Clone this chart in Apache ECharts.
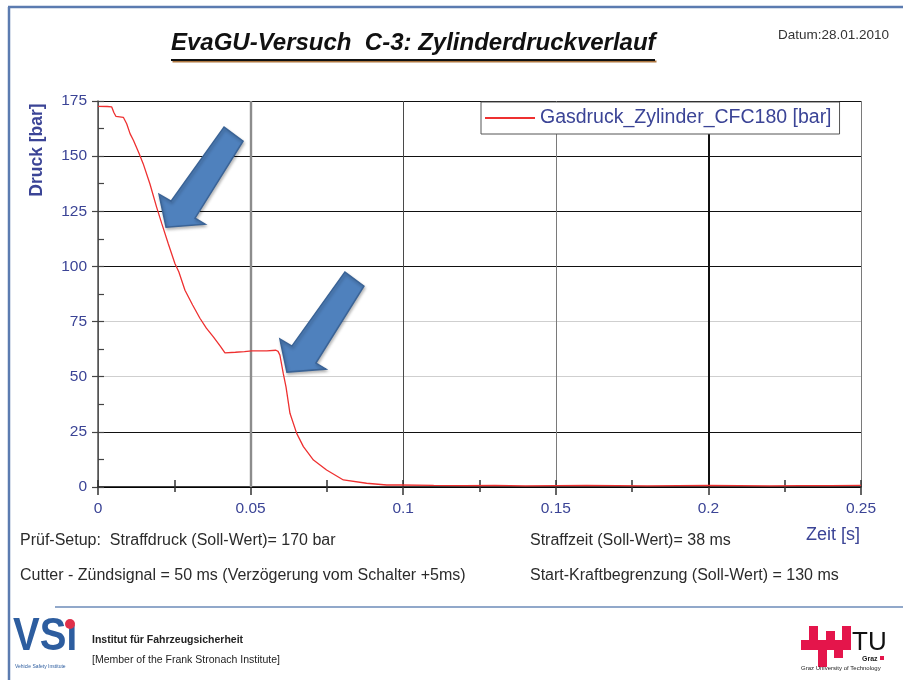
<!DOCTYPE html>
<html>
<head>
<meta charset="utf-8">
<script src="https://cdn.jsdelivr.net/npm/echarts@6/dist/echarts.min.js"></script>
<style>
  html, body { margin: 0; padding: 0; background: #fff; }
  #c { width: 903px; height: 680px; }
</style>
</head>
<body>
<div id="c"></div>
<script>
// Zylinderdruck über der Zeit (s, bar)
const TIME = [0, 0.0030, 0.0045, 0.0052, 0.0059, 0.0083, 0.0094, 0.0105, 0.0116, 0.0135,
  0.0148, 0.0170, 0.0192, 0.0209, 0.0230, 0.0252, 0.0265, 0.0285, 0.0310, 0.0334,
  0.0355, 0.0378, 0.0400, 0.0416, 0.0450, 0.0480, 0.0504, 0.0553, 0.0583, 0.0590,
  0.0596, 0.0607, 0.0616, 0.0629, 0.0651, 0.0673, 0.0706, 0.0749, 0.0804, 0.0880,
  0.0946, 0.0990, 0.110, 0.120, 0.130, 0.140, 0.150, 0.160, 0.170, 0.180,
  0.190, 0.200, 0.210, 0.220, 0.230, 0.240, 0.250];
const GASDRUCK = [172.6, 172.5, 172.3, 169.8, 168.0, 167.6, 164.7, 160.2, 157.2, 151.1,
  146.6, 137.5, 126.9, 119.4, 110.4, 101.3, 97.5, 89.2, 82.5, 76.5,
  72.0, 68.1, 64.0, 60.8, 61.1, 61.4, 61.7, 61.7, 62.0, 61.5,
  59.8, 51.5, 45.4, 33.4, 24.3, 18.3, 12.2, 7.7, 3.2, 1.7,
  0.9, 0.9, 0.7, 0.6, 0.7, 0.5, 0.6, 0.7, 0.6, 0.5,
  0.6, 0.7, 0.6, 0.5, 0.6, 0.6, 0.7];
const SERIES_NAME = 'Gasdruck_Zylinder_CFC180 [bar]';
const X_TICKS = [0, 0.05, 0.1, 0.15, 0.2, 0.25];
const Y_TICKS = [0, 25, 50, 75, 100, 125, 150, 175];
// Pfeilspitzen (Zeit, Druck) der beiden Markierungspfeile
const ARROW_TIPS = [[0.0223, 117.8], [0.0619, 52.1]];

const FONT = 'Liberation Sans, Arial, sans-serif';
const BLUE_TEXT = '#3b4496';
const FRAME = '#5b7bb0';

const xStep = X_TICKS[1] - X_TICKS[0];
const yStep = Y_TICKS[1] - Y_TICKS[0];

const chart = echarts.init(document.getElementById('c'), null, { renderer: 'canvas' });

const option = {
  animation: false,
  backgroundColor: '#ffffff',
  title: {
    text: 'EvaGU-Versuch  C-3: Zylinderdruckverlauf',
    left: 171,
    top: 31,
    padding: 0,
    textStyle: {
      fontFamily: FONT,
      fontSize: 24,
      fontWeight: 'bold',
      fontStyle: 'italic',
      color: '#111',
      textShadowColor: 'rgba(160,95,30,0.85)',
      textShadowOffsetX: 1.5,
      textShadowOffsetY: 1.5,
      textShadowBlur: 0
    }
  },
  legend: {
    data: [SERIES_NAME],
    left: 481,
    top: 102,
    orient: 'horizontal',
    backgroundColor: '#fff',
    borderColor: '#555',
    borderWidth: 1,
    borderRadius: 0,
    padding: [6, 8, 6, 4],
    icon: 'rect',
    itemWidth: 50,
    itemHeight: 2,
    itemGap: 6,
    selectedMode: false,
    textStyle: { fontFamily: FONT, fontSize: 19.5, color: BLUE_TEXT }
  },
  grid: { left: 98, right: 42, top: 101, bottom: 193, containLabel: false },
  xAxis: [
    {
      type: 'value',
      position: 'bottom',
      min: X_TICKS[0],
      max: X_TICKS[X_TICKS.length - 1],
      interval: xStep,
      axisLine: { show: true, onZero: false, lineStyle: { color: '#000', width: 1.5 } },
      axisTick: { show: true, inside: false, length: 8, lineStyle: { color: '#333', width: 1.5 } },
      minorTick: { show: true, splitNumber: 2, length: 5, lineStyle: { color: '#333', width: 1.5 } },
      axisLabel: {
        margin: 14,
        fontFamily: FONT,
        fontSize: 15.5,
        color: BLUE_TEXT,
        formatter: v => String(+v.toFixed(2))
      },
      splitLine: {
        show: true,
        lineStyle: { color: ['#555', '#8c8c8c', '#4a4a4a', '#7a7a7a', '#111', '#7a7a7a'], width: 1 }
      }
    },
    {
      type: 'value',
      position: 'bottom',
      min: X_TICKS[0],
      max: X_TICKS[X_TICKS.length - 1],
      interval: xStep / 2,
      axisLine: { show: false },
      axisTick: { show: true, inside: true, length: 7, lineStyle: { color: '#333', width: 1.5 } },
      axisLabel: { show: false },
      splitLine: { show: false }
    }
  ],
  yAxis: [
    {
      type: 'value',
      position: 'left',
      min: Y_TICKS[0],
      max: Y_TICKS[Y_TICKS.length - 1],
      interval: yStep,
      axisLine: { show: true, onZero: false, lineStyle: { color: '#555', width: 1.5 } },
      axisTick: { show: true, inside: false, length: 6, lineStyle: { color: '#444', width: 1.2 } },
      axisLabel: { margin: 11, fontFamily: FONT, fontSize: 15.5, color: BLUE_TEXT },
      splitLine: {
        show: true,
        lineStyle: {
          color: ['#111', '#111', '#cfcfcf', '#cfcfcf', '#111', '#111', '#111', '#111'],
          width: 1.2
        }
      }
    },
    {
      type: 'value',
      position: 'left',
      min: Y_TICKS[0],
      max: Y_TICKS[Y_TICKS.length - 1],
      interval: yStep / 2,
      axisLine: { show: false },
      axisTick: { show: true, inside: true, length: 6, lineStyle: { color: '#444', width: 1.2 } },
      axisLabel: { show: false },
      splitLine: { show: false }
    }
  ],
  series: [
    {
      // hervorgehobene senkrechte Gitterlinien
      type: 'line',
      xAxisIndex: 0,
      yAxisIndex: 0,
      data: [[X_TICKS[0], Y_TICKS[0]]],
      showSymbol: false,
      lineStyle: { opacity: 0 },
      silent: true,
      z: 1,
      markLine: {
        silent: true,
        symbol: ['none', 'none'],
        label: { show: false },
        z: 1,
        data: [
          { xAxis: X_TICKS[1], lineStyle: { color: '#8c8c8c', width: 2.4, type: 'solid' } },
          { xAxis: X_TICKS[4], lineStyle: { color: '#111', width: 2, type: 'solid' } }
        ]
      }
    },
    {
      name: SERIES_NAME,
      type: 'line',
      xAxisIndex: 0,
      yAxisIndex: 0,
      data: TIME.map((t, i) => [t, GASDRUCK[i]]),
      showSymbol: false,
      smooth: false,
      z: 3,
      itemStyle: { color: '#ee3030' },
      lineStyle: { color: '#ee3030', width: 1.3 }
    }
  ],
  graphic: [
    // Rahmen
    { id: 'frameTop', type: 'line', shape: { x1: 8, y1: 7, x2: 903, y2: 7 }, style: { stroke: FRAME, lineWidth: 2.5 }, z: 10 },
    { id: 'frameLeft', type: 'line', shape: { x1: 9, y1: 7, x2: 9, y2: 680 }, style: { stroke: FRAME, lineWidth: 2.5 }, z: 10 },
    { id: 'frameSep', type: 'line', shape: { x1: 55, y1: 607, x2: 903, y2: 607 }, style: { stroke: '#6d8bb8', lineWidth: 1.5 }, z: 10 },
    // Unterstreichung des Titels
    { id: 'titleLine', type: 'line', shape: { x1: 171, y1: 60, x2: 655, y2: 60 },
      style: { stroke: '#111', lineWidth: 2, shadowColor: 'rgba(160,95,30,0.85)', shadowOffsetX: 1.5, shadowOffsetY: 1.5 }, z: 10 },
    { id: 'datum', type: 'text', x: 778, y: 35,
      style: { text: 'Datum:28.01.2010', font: '13.5px ' + FONT, fill: '#333', textVerticalAlign: 'middle' }, z: 10 },
    // Achsentitel
    { id: 'yName', type: 'text', x: 37, y: 150, rotation: Math.PI / 2,
      style: { text: 'Druck [bar]', font: 'bold 17.5px ' + FONT, fill: BLUE_TEXT, textAlign: 'center', textVerticalAlign: 'middle' }, z: 10 },
    { id: 'xName', type: 'text', x: 806, y: 535,
      style: { text: 'Zeit [s]', font: '18px ' + FONT, fill: BLUE_TEXT, textVerticalAlign: 'middle' }, z: 10 },
    // Versuchsparameter
    { id: 't1', type: 'text', x: 20, y: 541,
      style: { text: 'Prüf-Setup:  Straffdruck (Soll-Wert)= 170 bar', font: '16px ' + FONT, fill: '#2b2b2b', textVerticalAlign: 'middle' }, z: 10 },
    { id: 't2', type: 'text', x: 530, y: 541,
      style: { text: 'Straffzeit (Soll-Wert)= 38 ms', font: '16px ' + FONT, fill: '#2b2b2b', textVerticalAlign: 'middle' }, z: 10 },
    { id: 't3', type: 'text', x: 20, y: 576,
      style: { text: 'Cutter - Zündsignal = 50 ms (Verzögerung vom Schalter +5ms)', font: '16px ' + FONT, fill: '#2b2b2b', textVerticalAlign: 'middle' }, z: 10 },
    { id: 't4', type: 'text', x: 530, y: 576,
      style: { text: 'Start-Kraftbegrenzung (Soll-Wert) = 130 ms', font: '16px ' + FONT, fill: '#2b2b2b', textVerticalAlign: 'middle' }, z: 10 },
    // VSI-Logo
    { id: 'vsi', type: 'text', x: 13, y: 660, scaleY: 1.15,
      style: { text: 'VSı', font: 'bold 40px ' + FONT, fill: '#2d5d9f', textVerticalAlign: 'bottom' }, z: 10 },
    { id: 'vsiDot', type: 'circle', shape: { cx: 70, cy: 624, r: 5 }, style: { fill: '#e0304a' }, z: 10 },
    { id: 'vsiSub', type: 'text', x: 15, y: 667,
      style: { text: 'Vehicle Safety Institute', font: '5px ' + FONT, fill: '#2d5d9f', textVerticalAlign: 'middle' }, z: 10 },
    { id: 'inst1', type: 'text', x: 92, y: 640,
      style: { text: 'Institut für Fahrzeugsicherheit', font: 'bold 10.5px ' + FONT, fill: '#222', textVerticalAlign: 'middle' }, z: 10 },
    { id: 'inst2', type: 'text', x: 92, y: 660,
      style: { text: '[Member of the Frank Stronach Institute]', font: '10.5px ' + FONT, fill: '#222', textVerticalAlign: 'middle' }, z: 10 },
    // TU-Graz-Logo
    { id: 'tu1', type: 'rect', shape: { x: 801, y: 640, width: 50, height: 10 }, style: { fill: '#e4154b' }, z: 10 },
    { id: 'tu2', type: 'rect', shape: { x: 809, y: 626, width: 9, height: 14 }, style: { fill: '#e4154b' }, z: 10 },
    { id: 'tu3', type: 'rect', shape: { x: 826, y: 631, width: 9, height: 9 }, style: { fill: '#e4154b' }, z: 10 },
    { id: 'tu4', type: 'rect', shape: { x: 842, y: 626, width: 9, height: 14 }, style: { fill: '#e4154b' }, z: 10 },
    { id: 'tu5', type: 'rect', shape: { x: 818, y: 650, width: 9, height: 17 }, style: { fill: '#e4154b' }, z: 10 },
    { id: 'tu6', type: 'rect', shape: { x: 834, y: 650, width: 9, height: 8 }, style: { fill: '#e4154b' }, z: 10 },
    { id: 'tuText', type: 'text', x: 852, y: 643,
      style: { text: 'TU', font: '26px ' + FONT, fill: '#111', textVerticalAlign: 'middle' }, z: 10 },
    { id: 'graz', type: 'text', x: 862, y: 659,
      style: { text: 'Graz', font: 'bold 7px ' + FONT, fill: '#222', textVerticalAlign: 'middle' }, z: 10 },
    { id: 'grazDot', type: 'rect', shape: { x: 880, y: 656, width: 4, height: 4 }, style: { fill: '#e4154b' }, z: 10 },
    { id: 'grazSub', type: 'text', x: 801, y: 668,
      style: { text: 'Graz University of Technology', font: '6px ' + FONT, fill: '#222', textVerticalAlign: 'middle' }, z: 10 }
  ]
};

chart.setOption(option);

// Markierungspfeile, an Datenpunkten verankert
const ARROW_SHAPE = [[0, 0], [-7, -33], [5, -26], [58, -100], [77, -86], [29, -9], [39, -3]];
chart.setOption({
  graphic: ARROW_TIPS.map((tip, i) => {
    const p = chart.convertToPixel({ gridIndex: 0 }, tip);
    return {
      id: 'arrow' + i,
      type: 'polygon',
      x: p[0],
      y: p[1],
      shape: { points: ARROW_SHAPE },
      style: { fill: '#4f81bd', stroke: '#3a6396', lineWidth: 1.5,
        shadowColor: 'rgba(0,0,0,0.25)', shadowBlur: 3, shadowOffsetX: 1, shadowOffsetY: 2 },
      z: 20
    };
  })
});
</script>
</body>
</html>
